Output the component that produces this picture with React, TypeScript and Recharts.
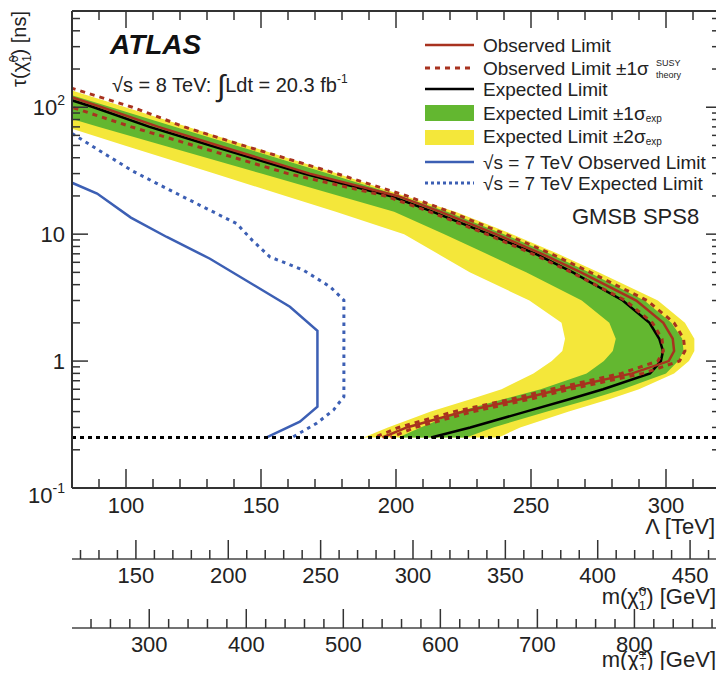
import { ComposedChart, Line, Area, XAxis, YAxis, ReferenceLine } from "recharts";

// lifetime grid (ns) on which the 8 TeV contours are sampled
const TAU = [150, 100, 70, 50, 30, 20, 15, 10, 7, 5, 3, 2, 1.5, 1.2, 1, 0.8, 0.6, 0.5, 0.4, 0.3, 0.25];
// Lambda [TeV] of each contour at those lifetimes
const YELLOW_LO = [40, 54.5, 77.7, 99.5, 132.7, 159.1, 177.7, 203, 215.5, 227.3, 249.4, 261.3, 262.6, 261.6, 257.7, 250.9, 239.1, 227.6, 212.9, 197, 188];
const GREEN_LO = [40, 64.7, 90, 113.9, 150.1, 179, 199.3, 217.9, 233.5, 248.2, 268.8, 279, 281.4, 280.3, 277, 270.6, 253.6, 239.6, 223.3, 209.1, 200.9];
const EXPECTED = [62, 88, 108.7, 131.3, 165.8, 197.8, 213.7, 234.4, 251.7, 265.5, 284, 293.9, 297.5, 298.9, 298.1, 294.1, 276.7, 264.2, 248.1, 227.5, 213];
const GREEN_HI = [67.4, 94.5, 118.3, 140.7, 174.8, 201.7, 219, 240, 257, 271.5, 292, 302, 306, 306.5, 304.5, 300, 284, 272, 256, 236, 226];
const YELLOW_HI = [73.3, 99.8, 123, 144.9, 178.2, 203.3, 222, 243, 260, 275, 297, 307, 310.5, 310.5, 308.5, 303, 290, 279, 264, 246, 238];
const OBSERVED = [66, 91, 112, 134, 168, 200.5, 216.5, 237, 254, 268.5, 289, 299, 302.5, 303, 301, 287.5, 261, 246, 225, 204, 195];
const OBS_THEO_UP = [76, 102.4, 121.6, 143.3, 178, 204, 220, 240.5, 257.5, 272, 293, 303, 306.5, 307, 305, 291.5, 264.5, 249.5, 228.5, 207, 198];
const OBS_THEO_DN = [60, 80, 102, 125, 160, 196, 212.5, 233.5, 250.5, 265, 285, 295, 298.5, 299, 297, 283.5, 257.5, 242.5, 221.5, 201, 192];

// 7 TeV limits
const OBS7_TAU = [25.4, 20.9, 13.5, 9.5, 6.4, 3.85, 2.68, 1.73, 0.437, 0.333, 0.25];
const OBS7_LAM = [80, 89.3, 101.8, 115.1, 131.1, 148.4, 160.7, 170.9, 170.9, 164.4, 152.1];
const EXP7_TAU = [62.1, 45.2, 31.3, 22.2, 16.4, 12.1, 8.98, 6.62, 5.21, 3.85, 3.02, 0.524, 0.411, 0.323, 0.25];
const EXP7_LAM = [80, 90.4, 102.6, 116.3, 128.6, 141, 146.7, 153.3, 165.7, 175.6, 180.7, 180.7, 176.8, 170.6, 161.5];

const TAU_CUT = 0.25;

const LAM_DOMAIN = [80, 320];
const N1_DOMAIN = [115.4, 466.2];
const C1_DOMAIN = [220.4, 888.2];
const TAU_DOMAIN = [0.1, 573];

const LAM_MAJOR = [100, 150, 200, 250, 300];
const N1_MAJOR = [150, 200, 250, 300, 350, 400, 450];
const C1_MAJOR = [300, 400, 500, 600, 700, 800];
const TAU_MAJOR = [0.1, 1, 10, 100];

const steps = (a: number, b: number, s: number) => {
  const out: number[] = [];
  for (let v = a; v <= b + 1e-9; v += s) out.push(Math.round(v * 1000) / 1000);
  return out;
};
const LAM_TICKS = steps(90, 310, 10);
const N1_TICKS = steps(120, 460, 10);
const C1_TICKS = steps(240, 880, 20);
const TAU_TICKS = [0.1, 0.2, 0.3, 0.4, 0.5, 0.6, 0.7, 0.8, 0.9, 1, 2, 3, 4, 5, 6, 7, 8, 9, 10, 20, 30, 40, 50, 60, 70, 80, 90, 100, 200, 300, 400, 500];

const bandData = TAU.map((tau, i) => ({
  tau,
  yellow: [YELLOW_LO[i], YELLOW_HI[i]],
  green: [GREEN_LO[i], GREEN_HI[i]],
}));
const curve = (vals: number[]) => TAU.map((tau, i) => ({ tau, lam: vals[i] }));
const obs7Data = OBS7_TAU.map((tau, i) => ({ tau, lam: OBS7_LAM[i] }));
const exp7Data = EXP7_TAU.map((tau, i) => ({ tau, lam: EXP7_LAM[i] }));

const W = 716;
const H = 662;
const FONT = "'Liberation Sans', Arial, Helvetica, sans-serif";
const AXIS = "#333";
const TXT = "#222";
const RED = "#a8321f";
const GREEN = "#63b730";
const YELLOW = "#f4e73a";
const BLUE = "#3c5fb4";

const bottomTick = (major: number[], labelDy: number, showLabel: boolean) => (p: any) => {
  const v = p.payload.value;
  const isMaj = major.includes(v);
  return (
    <g>
      <line x1={p.x} x2={p.x} y1={p.y} y2={p.y - (isMaj ? 19 : 9)} stroke={AXIS} strokeWidth={1.5} />
      {showLabel && isMaj && (
        <text x={p.x} y={p.y + labelDy} textAnchor="middle" dominantBaseline="central" fontSize={22} fill={TXT} fontFamily={FONT}>
          {v}
        </text>
      )}
    </g>
  );
};

const topTick = (p: any) => {
  const isMaj = LAM_MAJOR.includes(p.payload.value);
  return <line x1={p.x} x2={p.x} y1={p.y} y2={p.y + (isMaj ? 17 : 9)} stroke={AXIS} strokeWidth={1.5} />;
};

const leftTick = (p: any) => {
  const v = p.payload.value;
  const isMaj = TAU_MAJOR.includes(v);
  let label = null;
  if (isMaj) {
    const common = { x: p.x - 7, textAnchor: "end" as const, fontSize: 22, fill: TXT, fontFamily: FONT };
    if (v === 100)
      label = (
        <text {...common} y={p.y + 8}>
          10<tspan dy={-10} fontSize={14}>2</tspan>
        </text>
      );
    else if (v === 0.1)
      label = (
        <text {...common} y={p.y + 15}>
          10<tspan dy={-10} fontSize={14}>-1</tspan>
        </text>
      );
    else
      label = (
        <text {...common} y={p.y + 8}>
          {v}
        </text>
      );
  }
  return (
    <g>
      <line x1={p.x} x2={p.x + (isMaj ? 16 : 8)} y1={p.y} y2={p.y} stroke={AXIS} strokeWidth={1.5} />
      {label}
    </g>
  );
};

const rightTick = (p: any) => {
  const isMaj = TAU_MAJOR.includes(p.payload.value);
  return <line x1={p.x} x2={p.x - (isMaj ? 14 : 8)} y1={p.y} y2={p.y} stroke={AXIS} strokeWidth={1.5} />;
};

const frame = { stroke: AXIS, strokeWidth: 2 };
const thin = { stroke: "#444", strokeWidth: 1.5 };

export default function App() {
  const legendRows = [37, 60, 81, 105, 128, 154, 175];
  const lx1 = 417;
  const lx2 = 466;
  const tx = 475;
  return (
    <div style={{ position: "relative", width: W, height: H }}>
      <ComposedChart layout="vertical" width={W} height={H} margin={{ top: 2, right: 3, bottom: 0, left: 0 }}>
        {/* bottom axes are stacked in id order: a_lam, b_n1, c_c1 */}
        <XAxis xAxisId="a_lam" type="number" domain={LAM_DOMAIN} allowDataOverflow ticks={LAM_TICKS} interval={0}
          tickSize={0} tickMargin={0} tickLine={false} axisLine={frame} height={71} tick={bottomTick(LAM_MAJOR, 17, true)} />
        <XAxis xAxisId="b_n1" type="number" domain={N1_DOMAIN} allowDataOverflow ticks={N1_TICKS} interval={0}
          tickSize={0} tickMargin={0} tickLine={false} axisLine={thin} height={69} tick={bottomTick(N1_MAJOR, 16, true)} />
        <XAxis xAxisId="c_c1" type="number" domain={C1_DOMAIN} allowDataOverflow ticks={C1_TICKS} interval={0}
          tickSize={0} tickMargin={0} tickLine={false} axisLine={thin} height={42} tick={bottomTick(C1_MAJOR, 16, true)} />
        <XAxis xAxisId="top" orientation="top" type="number" domain={LAM_DOMAIN} allowDataOverflow ticks={LAM_TICKS} interval={0}
          tickSize={0} tickMargin={0} tickLine={false} axisLine={frame} height={1} tick={topTick} />
        <YAxis yAxisId="left" type="number" dataKey="tau" scale="log" domain={TAU_DOMAIN} allowDataOverflow reversed ticks={TAU_TICKS}
          interval={0} tickSize={0} tickMargin={0} tickLine={false} axisLine={frame} width={64} tick={leftTick} />
        <YAxis yAxisId="right" orientation="right" type="number" dataKey="tau" scale="log" domain={TAU_DOMAIN} allowDataOverflow reversed
          ticks={TAU_TICKS} interval={0} tickSize={0} tickMargin={0} tickLine={false} axisLine={frame} width={1} tick={rightTick} />

        <Area xAxisId="a_lam" yAxisId="left" data={bandData} dataKey="yellow" type="linear" stroke="none" fill={YELLOW} fillOpacity={1} isAnimationActive={false} />
        <Area xAxisId="a_lam" yAxisId="left" data={bandData} dataKey="green" type="linear" stroke="none" fill={GREEN} fillOpacity={1} isAnimationActive={false} />
        <Line xAxisId="a_lam" yAxisId="left" data={curve(EXPECTED)} dataKey="lam" type="linear" stroke="#000" strokeWidth={2.5} dot={false} activeDot={false} isAnimationActive={false} />
        <Line xAxisId="a_lam" yAxisId="left" data={curve(OBSERVED)} dataKey="lam" type="linear" stroke={RED} strokeWidth={2.5} dot={false} activeDot={false} isAnimationActive={false} />
        <Line xAxisId="a_lam" yAxisId="left" data={curve(OBS_THEO_UP)} dataKey="lam" type="linear" stroke={RED} strokeWidth={3} strokeDasharray="5 5" dot={false} activeDot={false} isAnimationActive={false} />
        <Line xAxisId="a_lam" yAxisId="left" data={curve(OBS_THEO_DN)} dataKey="lam" type="linear" stroke={RED} strokeWidth={3} strokeDasharray="5 5" dot={false} activeDot={false} isAnimationActive={false} />
        <Line xAxisId="a_lam" yAxisId="left" data={obs7Data} dataKey="lam" type="linear" stroke={BLUE} strokeWidth={2.5} dot={false} activeDot={false} isAnimationActive={false} />
        <Line xAxisId="a_lam" yAxisId="left" data={exp7Data} dataKey="lam" type="linear" stroke={BLUE} strokeWidth={3} strokeDasharray="3.5 4.5" dot={false} activeDot={false} isAnimationActive={false} />
        <ReferenceLine xAxisId="a_lam" yAxisId="left" y={TAU_CUT} stroke="#000" strokeWidth={3} strokeDasharray="4 4" />
      </ComposedChart>

      <svg width={W} height={H} style={{ position: "absolute", left: 0, top: 0, pointerEvents: "none", overflow: "visible" }} fontFamily={FONT}>
        <text x={102} y={46} fontSize={28} fontWeight="bold" fontStyle="italic" fill="#111">ATLAS</text>
        <text x={104} y={84} fontSize={20} fill={TXT}>
          √s = 8 TeV: <tspan fontSize={30} dy={4}>∫</tspan><tspan dy={-4}>Ldt = 20.3 fb</tspan><tspan fontSize={12} dy={-9}>-1</tspan>
        </text>
        <text x={564} y={216} fontSize={22} fill={TXT}>GMSB SPS8</text>

        <line x1={lx1} x2={lx2} y1={legendRows[0]} y2={legendRows[0]} stroke={RED} strokeWidth={2.5} />
        <line x1={lx1} x2={lx2} y1={legendRows[1]} y2={legendRows[1]} stroke={RED} strokeWidth={3} strokeDasharray="5 5" />
        <line x1={lx1} x2={lx2} y1={legendRows[2]} y2={legendRows[2]} stroke="#000" strokeWidth={2.5} />
        <rect x={lx1} width={lx2 - lx1} y={97} height={16} fill={GREEN} />
        <rect x={lx1} width={lx2 - lx1} y={122} height={15} fill={YELLOW} />
        <line x1={lx1} x2={lx2} y1={legendRows[5]} y2={legendRows[5]} stroke={BLUE} strokeWidth={2.5} />
        <line x1={lx1} x2={lx2} y1={legendRows[6]} y2={legendRows[6]} stroke={BLUE} strokeWidth={3} strokeDasharray="3 3" />
        <g fontSize={19} fill={TXT} dominantBaseline="central">
          <text x={tx} y={legendRows[0]}>Observed Limit</text>
          <text x={tx} y={legendRows[1]}>Observed Limit ±1σ</text>
          <text x={tx} y={legendRows[2]}>Expected Limit</text>
          <text x={tx} y={legendRows[3]}>Expected Limit ±1σ<tspan fontSize={10} dy={5}>exp</tspan></text>
          <text x={tx} y={legendRows[4]}>Expected Limit ±2σ<tspan fontSize={10} dy={5}>exp</tspan></text>
          <text x={tx} y={legendRows[5]}>√s = 7 TeV Observed Limit</text>
          <text x={tx} y={legendRows[6]}>√s = 7 TeV Expected Limit</text>
        </g>
        <text x={648} y={55} fontSize={9} fill={TXT} dominantBaseline="central">SUSY</text>
        <text x={648} y={67} fontSize={9} fill={TXT} dominantBaseline="central">theory</text>

        <text x={18} y={3} transform="rotate(-90 18 3)" textAnchor="end" fontSize={20} fill={TXT}>
          τ(χ̃<tspan fontSize={12} dy={5}>1</tspan><tspan fontSize={12} dx={-7} dy={-13}>0</tspan><tspan dy={8}>) [ns]</tspan>
        </text>
        <text x={707} y={526} textAnchor="end" fontSize={22} fill={TXT}>Λ [TeV]</text>
        <text x={708} y={596} textAnchor="end" fontSize={22} fill={TXT}>
          m(χ̃<tspan fontSize={13} dy={6}>1</tspan><tspan fontSize={13} dx={-7} dy={-14}>0</tspan><tspan dy={8}>) [GeV]</tspan>
        </text>
        <text x={708} y={659} textAnchor="end" fontSize={22} fill={TXT}>
          m(χ̃<tspan fontSize={13} dy={6}>1</tspan><tspan fontSize={13} dx={-7} dy={-14}>±</tspan><tspan dy={8}>) [GeV]</tspan>
        </text>
      </svg>
    </div>
  );
}
